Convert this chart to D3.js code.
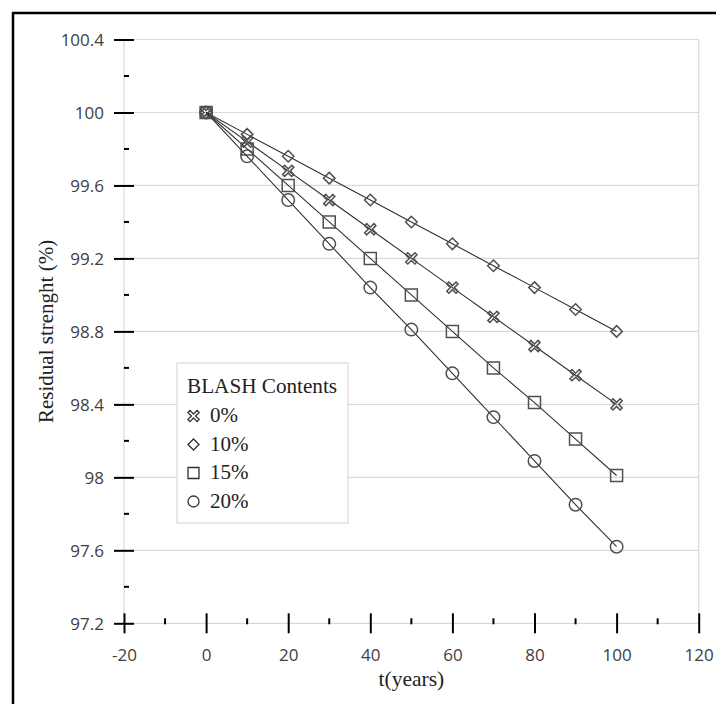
<!DOCTYPE html>
<html>
<head>
<meta charset="utf-8">
<script src="https://cdn.jsdelivr.net/npm/d3@7"></script>
<style>
  html, body { margin: 0; padding: 0; background: #fff; }
  svg { display: block; }
  .ticklab { font-family: 'Open Sans', 'Noto Sans', sans-serif; font-size: 17px; }
</style>
</head>
<body>
<svg id="chart" width="716" height="704"></svg>
<script>
// ---- data ----
const years = [0, 10, 20, 30, 40, 50, 60, 70, 80, 90, 100];
const s0  = [100, 99.84, 99.68, 99.52, 99.36, 99.20, 99.04, 98.88, 98.72, 98.56, 98.40];
const s10 = [100, 99.88, 99.76, 99.64, 99.52, 99.40, 99.28, 99.16, 99.04, 98.92, 98.80];
const s15 = [100, 99.80, 99.60, 99.40, 99.20, 99.00, 98.80, 98.60, 98.41, 98.21, 98.01];
const s20 = [100, 99.76, 99.52, 99.28, 99.04, 98.81, 98.57, 98.33, 98.09, 97.85, 97.62];
const seriesNames = ["0%", "10%", "15%", "20%"];
const seriesMarkers = ["x", "diamond", "square", "circle"];
const xTicks = [-20, 0, 20, 40, 60, 80, 100, 120];
const xMinorTicks = [-10, 10, 30, 50, 70, 90, 110];
const yTicks = [97.2, 97.6, 98, 98.4, 98.8, 99.2, 99.6, 100, 100.4];
const yMinorTicks = [97.4, 97.8, 98.2, 98.6, 99.0, 99.4, 99.8, 100.2];
const xTitle = "t(years)";
const yTitle = "Residual strenght (%)";
const legendTitle = "BLASH Contents";

const seriesValues = [s0, s10, s15, s20];

// ---- layout ----
const svg = d3.select("#chart");
const x = d3.scaleLinear().domain([-20, 120]).range([124, 698.7]);
const y = d3.scaleLinear().domain([97.2, 100.4]).range([623.3, 39.5]);

const grid = "#d9d9d9";
const ink = "#404040";
const serif = "'Liberation Serif', 'Times New Roman', serif";
const numFmt = d => String(+(+d).toFixed(1));

// outer frame (left & top visible)
svg.append("line").attr("x1", 13).attr("x2", 13).attr("y1", 12).attr("y2", 704)
  .attr("stroke", "#000").attr("stroke-width", 2.5);
svg.append("line").attr("x1", 12).attr("x2", 716).attr("y1", 13).attr("y2", 13)
  .attr("stroke", "#000").attr("stroke-width", 2.5);

// gridlines
svg.append("g").selectAll("line").data(yTicks).join("line")
  .attr("x1", x(-20)).attr("x2", x(120))
  .attr("y1", d => y(d)).attr("y2", d => y(d))
  .attr("stroke", grid).attr("stroke-width", 1.2);
svg.append("g").selectAll("line").data([-20, 120]).join("line")
  .attr("x1", d => x(d)).attr("x2", d => x(d))
  .attr("y1", y(100.4)).attr("y2", y(97.2))
  .attr("stroke", grid).attr("stroke-width", 1.2);

// y axis ticks
const yAxis = d3.axisLeft(y).tickValues(yTicks).tickSize(0).tickPadding(0).tickFormat(numFmt);
const gy = svg.append("g").attr("transform", `translate(${x(-20)},0)`).call(yAxis);
gy.select(".domain").remove();
gy.attr("font-size", null).attr("font-family", null);
gy.selectAll(".tick text").attr("class", "ticklab").attr("x", -20).attr("dy", "0.35em")
  .attr("fill", ink);
gy.selectAll(".tick").append("line").attr("x1", -10).attr("x2", 10)
  .attr("stroke", "#000").attr("stroke-width", 2);
svg.append("g").selectAll("line").data(yMinorTicks).join("line")
  .attr("x1", x(-20)).attr("x2", x(-20) + 5)
  .attr("y1", d => y(d)).attr("y2", d => y(d))
  .attr("stroke", "#000").attr("stroke-width", 2);

// x axis ticks
const xAxis = d3.axisBottom(x).tickValues(xTicks).tickSize(0).tickPadding(0).tickFormat(numFmt);
const gx = svg.append("g").attr("transform", `translate(0,${y(97.2)})`).call(xAxis);
gx.select(".domain").remove();
gx.attr("font-size", null).attr("font-family", null);
gx.selectAll(".tick text").attr("class", "ticklab").attr("y", 38).attr("dy", 0)
  .attr("fill", ink);
gx.selectAll(".tick").append("line").attr("y1", -10).attr("y2", 10)
  .attr("stroke", "#000").attr("stroke-width", 2);
svg.append("g").selectAll("line").data(xMinorTicks).join("line")
  .attr("x1", d => x(d)).attr("x2", d => x(d))
  .attr("y1", y(97.2) - 5).attr("y2", y(97.2) + 1)
  .attr("stroke", "#000").attr("stroke-width", 2);

// axis titles
svg.append("text").attr("x", x(50)).attr("y", 686).attr("text-anchor", "middle")
  .attr("font-family", serif).attr("font-size", 21.5).attr("fill", "#222").text(xTitle);
svg.append("text").attr("transform", `translate(53,${(y(100.4) + y(97.2)) / 2}) rotate(-90)`)
  .attr("text-anchor", "middle")
  .attr("font-family", serif).attr("font-size", 21).attr("fill", "#222").text(yTitle);

// marker paths
function markerPath(type, s) {
  if (type === "circle") {
    const r = s / 2;
    return `M${r},0A${r},${r} 0 1,1 ${-r},0A${r},${r} 0 1,1 ${r},0Z`;
  }
  if (type === "square") {
    const h = s / 2;
    return `M${-h},${-h}H${h}V${h}H${-h}Z`;
  }
  if (type === "diamond") {
    const h = s / 2;
    return `M0,${-h}L${h},0L0,${h}L${-h},0Z`;
  }
  // outlined X
  const a = s * 0.13, L = s / 2 + 1;
  const pts = [[-a,-L],[a,-L],[a,-a],[L,-a],[L,a],[a,a],[a,L],[-a,L],[-a,a],[-L,a],[-L,-a],[-a,-a]];
  const c = Math.SQRT1_2;
  return "M" + pts.map(([px, py]) => [(px - py) * c, (px + py) * c].map(v => v.toFixed(2)).join(",")).join("L") + "Z";
}
const markerSize = { x: 11, diamond: 11.5, square: 12, circle: 12.5 };

// lines and markers
const line = d3.line().x((d, i) => x(years[i])).y(d => y(d));
seriesValues.forEach((vals, si) => {
  const g = svg.append("g");
  g.append("path").datum(vals).attr("d", line)
    .attr("fill", "none").attr("stroke", "#303030").attr("stroke-width", 1.1);
  const m = seriesMarkers[si];
  g.selectAll("path.mk").data(vals).join("path").attr("class", "mk")
    .attr("transform", (d, i) => `translate(${x(years[i])},${y(d)})`)
    .attr("d", markerPath(m, markerSize[m]))
    .attr("fill", "none").attr("stroke", "#505050").attr("stroke-width", 1.5);
});

// legend
const lg = svg.append("g");
lg.append("rect").attr("x", 177).attr("y", 363).attr("width", 171).attr("height", 160)
  .attr("fill", "#fff").attr("stroke", grid).attr("stroke-width", 1.2);
lg.append("text").attr("x", 187).attr("y", 393)
  .attr("font-family", serif).attr("font-size", 21.2).attr("fill", "#222").text(legendTitle);
seriesNames.forEach((name, i) => {
  const by = 422 + i * 28.5;
  lg.append("path").attr("transform", `translate(193.5,${by - 6})`)
    .attr("d", markerPath(seriesMarkers[i], 11))
    .attr("fill", "none").attr("stroke", "#303030").attr("stroke-width", 1.3);
  lg.append("text").attr("x", 210).attr("y", by)
    .attr("font-family", serif).attr("font-size", 21).attr("fill", "#222").text(name);
});
</script>
</body>
</html>
